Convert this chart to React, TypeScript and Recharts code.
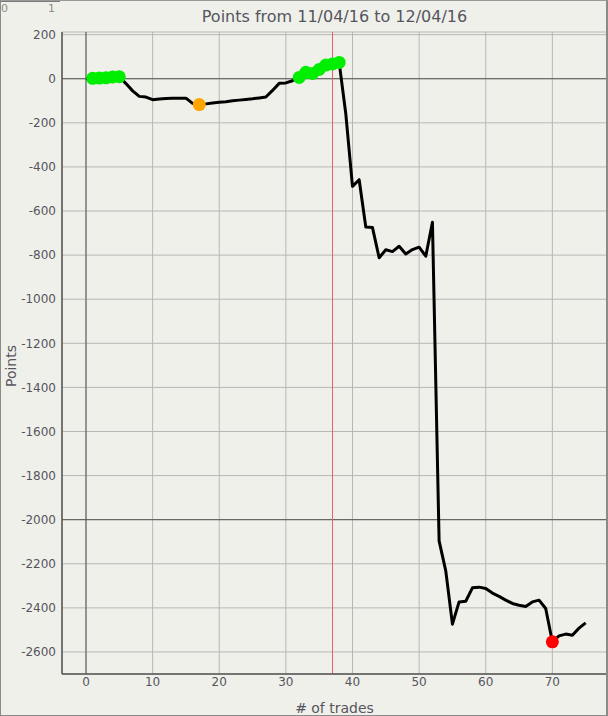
import React from "react";
import {
  LineChart,
  Line,
  XAxis,
  YAxis,
  CartesianGrid,
  ReferenceLine,
  Label,
} from "recharts";

// trade number -> cumulative points
const trades = [
  0, 1, 2, 3, 4, 5, 6, 7, 8, 9, 10, 11, 12, 13, 14, 15, 16, 17, 18, 19, 20,
  21, 22, 23, 24, 25, 26, 27, 28, 29, 30, 31, 32, 33, 34, 35, 36, 37, 38, 39,
  40, 41, 42, 43, 44, 45, 46, 47, 48, 49, 50, 51, 52, 53, 54, 55, 56, 57, 58,
  59, 60, 61, 62, 63, 64, 65, 66, 67, 68, 69, 70, 71, 72, 73, 74, 75,
];
const points = [
  0, 2, 3, 4, 8, 9, -22, -55, -80, -83, -95, -92, -90, -89, -88, -88, -112,
  -117, -114, -110, -107, -104, -100, -97, -94, -91, -87, -83, -53, -21, -19,
  -9, 6, 29, 24, 42, 62, 67, 74, -160, -488, -458, -673, -675, -812, -776,
  -784, -760, -795, -775, -764, -805, -651, -2096, -2232, -2474, -2373, -2370,
  -2309, -2306, -2312, -2333, -2348, -2365, -2380, -2388, -2394, -2373, -2365,
  -2403, -2554, -2527, -2519, -2524, -2492, -2468,
];
const greenTrades = [1, 2, 3, 4, 5, 32, 33, 34, 35, 36, 37, 38];
const orangeTrades = [17];
const redTrades = [70];

const xTicks = [0, 10, 20, 30, 40, 50, 60, 70];
const yTicks = [
  200, 0, -200, -400, -600, -800, -1000, -1200, -1400, -1600, -1800, -2000,
  -2200, -2400, -2600,
];

const data = trades.map((t, i) => ({ trade: t, points: points[i] }));

const FONT = "'DejaVu Sans', Verdana, sans-serif";
const TEXT = "#555560";

function renderDot(props: any) {
  const { cx, cy, payload, index } = props;
  let fill = "";
  if (greenTrades.includes(payload.trade)) fill = "#00ee00";
  else if (orangeTrades.includes(payload.trade)) fill = "#ffa500";
  else if (redTrades.includes(payload.trade)) fill = "#ff0000";
  if (!fill) return <g key={`d${index}`} />;
  return <circle key={`d${index}`} cx={cx} cy={cy} r={6.5} fill={fill} stroke="none" />;
}

export default function App() {
  return (
    <div
      style={{
        position: "absolute",
        top: 0,
        left: 0,
        width: 608,
        height: 716,
        background: "#f0f0ea",
        overflow: "hidden",
        fontFamily: FONT,
      }}
    >
      <div
        style={{
          position: "absolute",
          top: 7,
          left: 62,
          width: 545,
          textAlign: "center",
          fontSize: 16,
          color: TEXT,
        }}
      >
        Points from 11/04/16 to 12/04/16
      </div>

      <LineChart
        width={608}
        height={716}
        data={data}
        margin={{ top: 32, right: 1, left: 0, bottom: 0 }}
      >
        <CartesianGrid stroke="#b6b6b6" strokeWidth={1} />
        <XAxis
          dataKey="trade"
          type="number"
          domain={[-3.6, 78.2]}
          ticks={xTicks}
          allowDataOverflow
          height={42}
          tickLine={false}
          tickSize={0}
          tickMargin={3}
          axisLine={{ stroke: "#555555", strokeWidth: 1.5 }}
          tick={{ fontSize: 12, fill: TEXT, fontFamily: FONT }}
        >
          <Label
            value="# of trades"
            position="insideBottom"
            offset={3}
            style={{ fontSize: 14, fill: TEXT, fontFamily: FONT }}
          />
        </XAxis>
        <YAxis
          type="number"
          domain={[-2700, 212]}
          ticks={yTicks}
          allowDataOverflow
          width={62}
          tickLine={false}
          tickSize={0}
          tickMargin={6}
          axisLine={{ stroke: "#555555", strokeWidth: 1.5 }}
          tick={{ fontSize: 12, fill: TEXT, fontFamily: FONT }}
        >
          <Label
            content={() => (
              <text
                x={16}
                y={366}
                transform="rotate(-90 16 366)"
                textAnchor="middle"
                fontSize={14}
                fill={TEXT}
                fontFamily={FONT}
              >
                Points
              </text>
            )}
          />
        </YAxis>
        <ReferenceLine y={0} stroke="#555555" strokeWidth={1} />
        <ReferenceLine y={-2000} stroke="#555555" strokeWidth={1} />
        <ReferenceLine x={0} stroke="#555555" strokeWidth={1} />
        <ReferenceLine x={37} stroke="#e8606c" strokeWidth={1} />
        <Line
          type="linear"
          dataKey="points"
          stroke="#000000"
          strokeWidth={3}
          strokeLinejoin="round"
          dot={renderDot}
          activeDot={false}
          isAnimationActive={false}
        />
      </LineChart>

      {/* small strip at the top-left corner */}
      <div
        style={{
          position: "absolute",
          top: 0,
          left: 0,
          width: 60,
          height: 2,
          background: "#7a7a7a",
        }}
      />
      <div
        style={{
          position: "absolute",
          top: 2,
          left: 1,
          fontSize: 11,
          color: "#8a8a8a",
        }}
      >
        0
      </div>
      <div
        style={{
          position: "absolute",
          top: 2,
          left: 48,
          fontSize: 11,
          color: "#8a8a8a",
        }}
      >
        1
      </div>

      {/* frame */}
      <div
        style={{
          position: "absolute",
          top: 0,
          left: 0,
          width: 608,
          height: 716,
          boxSizing: "border-box",
          borderLeft: "1px solid #8a8a8a",
          borderRight: "2px solid #8a8a8a",
          borderBottom: "1px solid #8a8a8a",
          borderTop: "1px solid #9a9a9a",
          pointerEvents: "none",
        }}
      />
    </div>
  );
}
